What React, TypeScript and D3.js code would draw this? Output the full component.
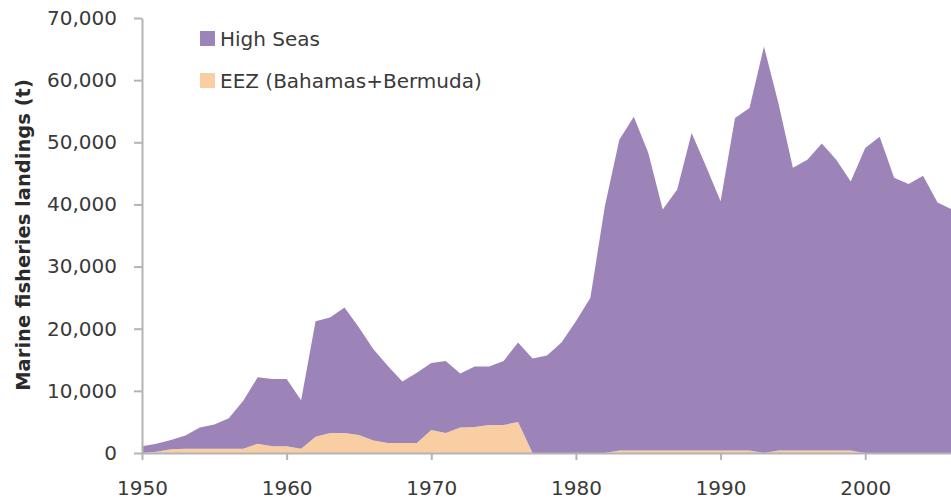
import React, { useRef, useEffect } from 'react';
import * as d3 from 'd3';

const years = d3.range(1950, 2007);

// EEZ (Bahamas+Bermuda), tonnes
const eez = [
  0, 200, 600, 700, 700, 700, 700, 700, 1500, 1100,
  1100, 700, 2600, 3200, 3200, 2900, 2000, 1600, 1600, 1600,
  3700, 3200, 4100, 4200, 4500, 4500, 5000, 0, 0, 0,
  0, 0, 0, 400, 400, 400, 400, 400, 400, 400,
  400, 400, 400, 0, 400, 400, 400, 400, 400, 400,
  0, 0, 0, 0, 0, 0, 0,
];

// High Seas, tonnes
const highSeas = [
  1100, 1300, 1500, 2100, 3400, 3900, 4900, 7700, 10700, 10800,
  10800, 7800, 18600, 18600, 20200, 17300, 14700, 12400, 9900, 11300,
  10800, 11600, 8700, 9700, 9400, 10300, 12800, 15200, 15700, 17800,
  21200, 25000, 39700, 50000, 53700, 47900, 38800, 42000, 51100, 45700,
  40100, 53500, 55100, 65400, 55900, 45500, 46800, 49400, 46800, 43300,
  49100, 50900, 44300, 43300, 44600, 40300, 39200,
];

const yTicks = [0, 10000, 20000, 30000, 40000, 50000, 60000, 70000];
const xTicks = [1950, 1960, 1970, 1980, 1990, 2000];

const seriesNames = ['High Seas', 'EEZ (Bahamas+Bermuda)'];
const colors = { highSeas: '#9c84b9', eez: '#facea3' };

export default function App() {
  const svgRef = useRef(null);

  useEffect(() => {
    const width = 951;
    const height = 504;
    const left = 142;
    const right = 952;
    const top = 18;
    const bottom = 453;
    const font = 'DejaVu Sans, sans-serif';
    const textColor = '#3a3a3a';
    const axisColor = '#b4b4b4';

    const svg = d3.select(svgRef.current)
      .attr('width', width)
      .attr('height', height);
    svg.selectAll('*').remove();

    const x = d3.scaleLinear().domain([1950, 2006]).range([left, right]);
    const y = d3.scaleLinear().domain([0, 70000]).range([bottom, top]);

    const rows = years.map((yr, i) => ({ year: yr, eez: eez[i], highSeas: highSeas[i] }));
    const stacked = d3.stack().keys(['eez', 'highSeas'])(rows);

    const area = d3.area()
      .x(d => x(d.data.year))
      .y0(d => y(d[0]))
      .y1(d => y(d[1]));

    svg.append('g')
      .selectAll('path')
      .data(stacked)
      .enter()
      .append('path')
      .attr('d', area)
      .attr('fill', d => colors[d.key]);

    // y axis
    const yAxis = svg.append('g')
      .attr('transform', `translate(${left},0)`)
      .call(d3.axisLeft(y).tickValues(yTicks).tickSize(8).tickSizeOuter(0).tickPadding(17)
        .tickFormat(d3.format(',')));
    yAxis.select('.domain').attr('stroke', axisColor).attr('stroke-width', 2);
    yAxis.selectAll('.tick line').attr('stroke', axisColor).attr('stroke-width', 2);
    yAxis.selectAll('.tick text')
      .attr('fill', textColor)
      .style('font-family', font)
      .style('font-size', '20px');

    // x axis
    const xAxis = svg.append('g')
      .attr('transform', `translate(0,${bottom})`)
      .call(d3.axisBottom(x).tickValues(xTicks).tickSize(7).tickSizeOuter(0).tickPadding(21)
        .tickFormat(d3.format('d')));
    xAxis.select('.domain').attr('stroke', axisColor).attr('stroke-width', 2);
    xAxis.selectAll('.tick line').attr('stroke', axisColor).attr('stroke-width', 2);
    xAxis.selectAll('.tick text')
      .attr('fill', textColor)
      .style('font-family', font)
      .style('font-size', '20px');

    // y title
    svg.append('text')
      .attr('transform', 'rotate(-90)')
      .attr('x', -235)
      .attr('y', 30)
      .style('text-anchor', 'middle')
      .style('font-family', font)
      .style('font-size', '19.5px')
      .style('font-weight', 'bold')
      .attr('fill', '#2a2a2a')
      .text('Marine fisheries landings (t)');

    // legend
    const legend = svg.append('g').attr('transform', 'translate(200,31)');
    const legendColors = [colors.highSeas, colors.eez];
    seriesNames.forEach((name, i) => {
      const g = legend.append('g').attr('transform', `translate(0,${i * 42})`);
      g.append('rect').attr('width', 15).attr('height', 15).attr('fill', legendColors[i]);
      g.append('text')
        .attr('x', 20)
        .attr('y', 7.5)
        .attr('dy', '0.35em')
        .attr('fill', textColor)
        .style('font-family', font)
        .style('font-size', '20px')
        .text(name);
    });
  }, []);

  return (
    <svg ref={svgRef} style={{ position: 'absolute', left: 0, top: 0, background: '#fff' }}></svg>
  );
}
